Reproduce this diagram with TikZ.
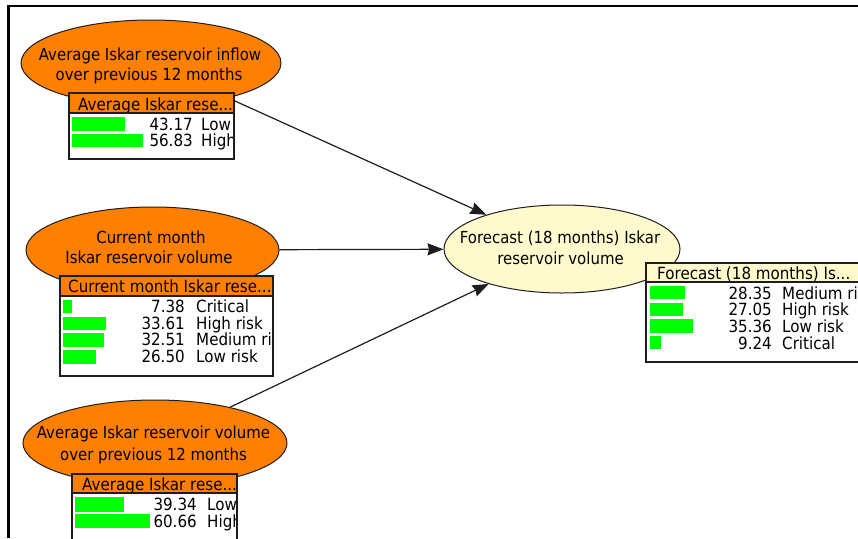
\documentclass[tikz,border=0pt]{standalone}
\usepackage{fontspec}
\setmainfont[FakeStretch=0.9]{DejaVu Sans}
\usetikzlibrary{shapes.geometric,arrows.meta}
\definecolor{nodeorange}{RGB}{255,128,0}
\definecolor{nodeyellow}{RGB}{255,250,205}
\definecolor{bargreen}{RGB}{0,255,0}
\definecolor{linegray}{RGB}{30,30,30}
\begin{document}
\begin{tikzpicture}[x=1pt,y=-1pt,
  ellnode/.style={ellipse, draw=linegray, line width=1pt, inner sep=0pt},
  ttl/.style={font=\fontsize{16.6}{21}\selectfont, inner sep=0pt, anchor=base},
  arr/.style={draw=linegray, line width=1.2pt, -{Stealth[length=16pt,width=12pt,inset=1.5pt]}},
  boxline/.style={draw=linegray, line width=1.1pt},
  bx/.style={font=\fontsize{16.8}{17}\selectfont, inner sep=0pt},
  bar/.style={fill=bargreen},
]
\clip (0,0) rectangle (858,538);
\fill[white] (0,0) rectangle (858,538);
% frame
\draw[black, line width=2.5pt] (8.7,538) -- (8.7,6.2) -- (860,6.2);

% ellipses
\node[ellnode, fill=nodeorange, minimum width=260pt, minimum height=86pt] (e1) at (151,63) {};
\node[ttl] (e1a) at (150,60) {Average Iskar reservoir inflow};
\node[ttl] (e1b) at (149,80) {over previous 12 months};

\node[ellnode, fill=nodeorange, minimum width=253pt, minimum height=86pt] (e2) at (152.5,250) {};
\node[ttl] (e2a) at (151,243) {Current month};
\node[ttl] (e2b) at (149,263) {Iskar reservoir volume};

\node[ellnode, fill=nodeorange, minimum width=264pt, minimum height=86pt] (e3) at (155,443) {};
\node[ttl] (e3a) at (153.5,438) {Average Iskar reservoir volume};
\node[ttl] (e3b) at (153.5,460) {over previous 12 months};

\node[ellnode, fill=nodeyellow, minimum width=236pt, minimum height=88pt] (f) at (562,249) {};
\node[ttl] (fa) at (560,243) {Forecast (18 months) Iskar};
\node[ttl] (fb) at (560.5,264) {reservoir volume};

% arrows
\draw[arr] (e1) -- (f);
\draw[arr] (e2) -- (f);
\draw[arr] (e3) -- (f);

% box 1
\fill[white] (69,93) rectangle (234,159);
\fill[nodeorange] (69,93) rectangle (234,113);
\begin{scope}
\clip (69,93) rectangle (234,159);
\node[bx, anchor=base west] (b1h) at (78,110) {Average Iskar rese...};
\fill[bar] (72,117) rectangle (125,131);
\fill[bar] (72,134) rectangle (143,147);
\node[bx, anchor=base east] (b1n1) at (193,130) {43.17};
\node[bx, anchor=base west] (b1l1) at (201,130) {Low};
\node[bx, anchor=base east] (b1n2) at (193,146.7) {56.83};
\node[bx, anchor=base west] (b1l2) at (201,146.7) {High};
\end{scope}
\draw[boxline] (69,93) rectangle (234,159);
\draw[boxline] (69,113) -- (234,113);

% box 2
\fill[white] (60,276) rectangle (273,376);
\fill[nodeorange] (60,276) rectangle (273,296);
\begin{scope}
\clip (60,276) rectangle (273,376);
\node[bx, anchor=base west] (b2h) at (68,292.7) {Current month Iskar rese...};
\fill[bar] (63,300) rectangle (72,313);
\fill[bar] (63,317) rectangle (106,330);
\fill[bar] (63,333) rectangle (104,347);
\fill[bar] (63,350) rectangle (96,364);
\node[bx, anchor=base east] (b2n1) at (185,312.3) {7.38};
\node[bx, anchor=base west] (b2l1) at (196,312.3) {Critical};
\node[bx, anchor=base east] (b2n2) at (185,329.3) {33.61};
\node[bx, anchor=base west] (b2l2) at (196,329.3) {High risk};
\node[bx, anchor=base east] (b2n3) at (185,345.7) {32.51};
\node[bx, anchor=base west] (b2l3) at (196,345.7) {Medium risk};
\node[bx, anchor=base east] (b2n4) at (185,362.7) {26.50};
\node[bx, anchor=base west] (b2l4) at (196,362.7) {Low risk};
\end{scope}
\draw[boxline] (60,276) rectangle (273,376);
\draw[boxline] (60,296) -- (273,296);

% box 3
\fill[white] (72,474) rectangle (237,560);
\fill[nodeorange] (72,474) rectangle (237,493);
\begin{scope}
\clip (72,474) rectangle (237,560);
\node[bx, anchor=base west] (b3h) at (82,490) {Average Iskar rese...};
\fill[bar] (75,497) rectangle (124,512);
\fill[bar] (75,514) rectangle (150,528);
\node[bx, anchor=base east] (b3n1) at (197,510.7) {39.34};
\node[bx, anchor=base west] (b3l1) at (207,510.7) {Low};
\node[bx, anchor=base east] (b3n2) at (197,527.3) {60.66};
\node[bx, anchor=base west] (b3l2) at (207,527.3) {High};
\end{scope}
\draw[boxline] (72,474) rectangle (237,560);
\draw[boxline] (72,493) -- (237,493);

% forecast box
\fill[white] (646,263) rectangle (870,362);
\fill[nodeyellow] (646,263) rectangle (870,282);
\begin{scope}
\clip (646,263) rectangle (870,362);
\node[bx, anchor=base west] (b4h) at (657,279) {Forecast (18 months) Is...};
\fill[bar] (650,286) rectangle (685,299);
\fill[bar] (650,303) rectangle (683,316);
\fill[bar] (650,319) rectangle (693,333);
\fill[bar] (650,336) rectangle (661,349);
\node[bx, anchor=base east] (b4n1) at (772,299) {28.35};
\node[bx, anchor=base west] (b4l1) at (782,299) {Medium risk};
\node[bx, anchor=base east] (b4n2) at (772,315.7) {27.05};
\node[bx, anchor=base west] (b4l2) at (782,315.7) {High risk};
\node[bx, anchor=base east] (b4n3) at (772,332.3) {35.36};
\node[bx, anchor=base west] (b4l3) at (782,332.3) {Low risk};
\node[bx, anchor=base east] (b4n4) at (772,349) {9.24};
\node[bx, anchor=base west] (b4l4) at (782,349) {Critical};
\end{scope}
\draw[boxline] (646,263) rectangle (870,362);
\draw[boxline] (646,282) -- (870,282);
\end{tikzpicture}
\end{document}
